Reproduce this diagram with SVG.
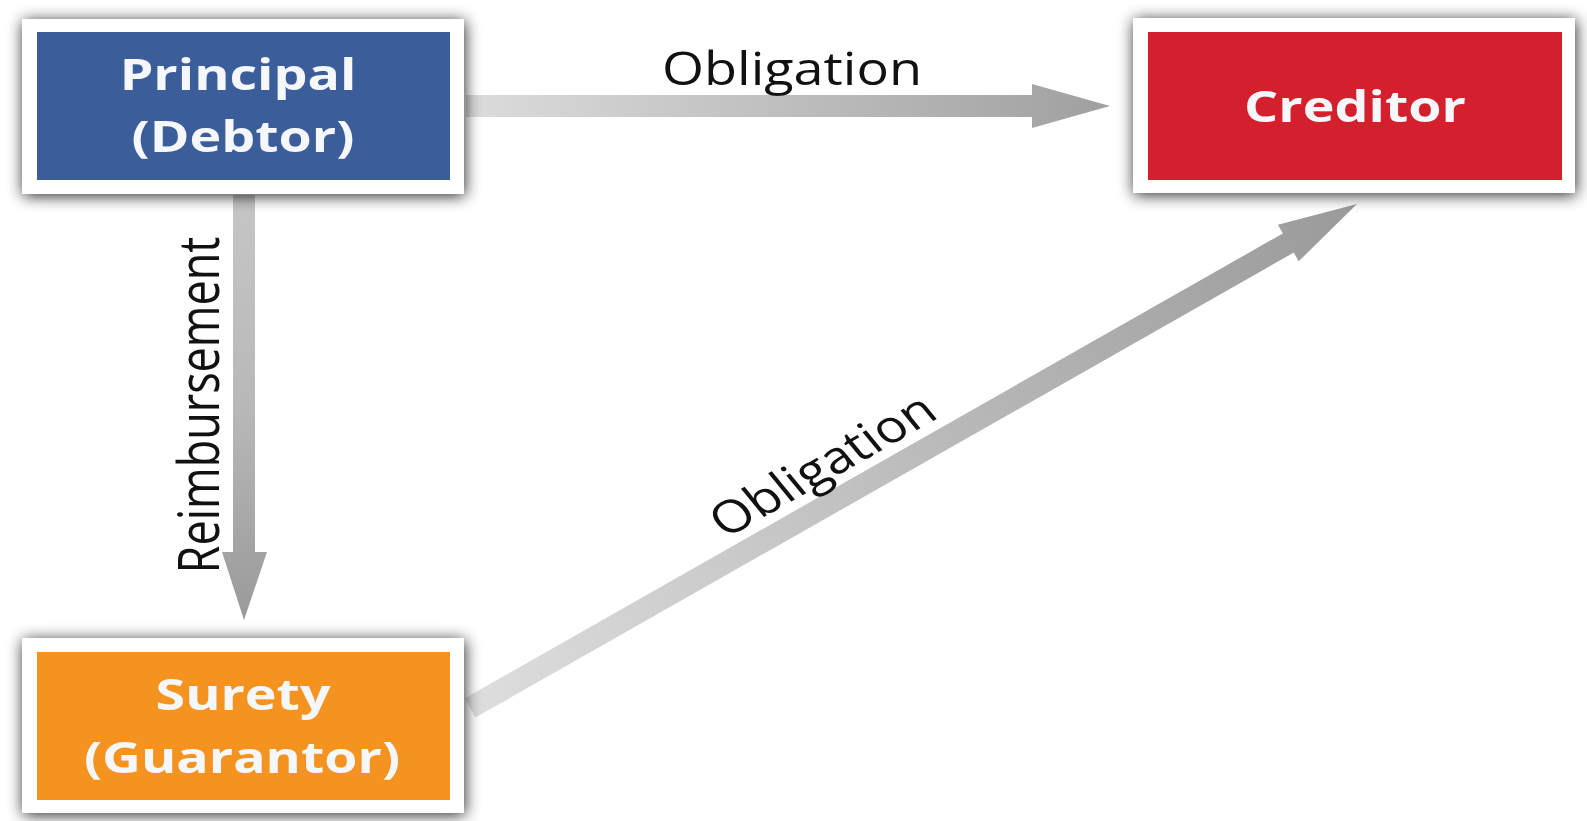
<svg xmlns="http://www.w3.org/2000/svg" width="1587" height="821" viewBox="0 0 1587 821">
<defs>
<style>
.frame{fill:#ffffff;filter:url(#sh)}
.box-text{font-family:"Open Sans","Noto Sans","Liberation Sans",sans-serif;font-weight:700;font-size:43px;fill:#f5f7fb;text-anchor:middle}
.label{font-family:"Open Sans","Noto Sans","Liberation Sans",sans-serif;font-weight:400;font-size:45px;fill:#111111;text-anchor:middle}
</style>
<filter id="sh" x="-15%" y="-35%" width="130%" height="170%">
<feGaussianBlur in="SourceAlpha" stdDeviation="8"/>
<feOffset dx="1" dy="2" result="b"/>
<feComponentTransfer><feFuncA type="linear" slope="0.85"/></feComponentTransfer>
<feMerge><feMergeNode/><feMergeNode in="SourceGraphic"/></feMerge>
</filter>
<linearGradient id="gH" gradientUnits="userSpaceOnUse" x1="466" y1="0" x2="1108" y2="0">
<stop offset="0" stop-color="#dcdcdc"/><stop offset="1" stop-color="#a0a0a0"/>
</linearGradient>
<linearGradient id="gV" gradientUnits="userSpaceOnUse" x1="0" y1="195" x2="0" y2="620">
<stop offset="0" stop-color="#c6c6c6"/><stop offset="0.5" stop-color="#b8b8b8"/><stop offset="1" stop-color="#9a9a9a"/>
</linearGradient>
<linearGradient id="gD" gradientUnits="userSpaceOnUse" x1="470" y1="708" x2="1357" y2="204">
<stop offset="0" stop-color="#dedede"/><stop offset="1" stop-color="#9a9a9a"/>
</linearGradient>
</defs>
<rect width="1587" height="821" fill="#ffffff"/>
<g id="connectors">
<polygon id="arrow-principal-creditor" fill="url(#gH)" points="466,95 1032,95 1032,84 1110,106 1032,128 1032,117 466,117"/>
<polygon id="arrow-principal-surety" fill="url(#gV)" points="233,195 255,195 255,552 267,552 244,620 222,552 233,552"/>
<polygon id="arrow-surety-creditor" fill="url(#gD)" points="464.6,698.4 1282.9,233.4 1277.9,224.7 1357,204 1298.7,261.3 1293.7,252.6 475.4,717.6"/>
<text class="label" x="0" y="0" transform="translate(792,85) scale(1.2,1)">Obligation</text>
<text class="label" x="0" y="0" font-size="44.5" transform="translate(219,405) scale(1.25,1) rotate(-90)">Reimbursement</text>
<text class="label" x="0" y="0" transform="translate(833,478) scale(1.2,1) rotate(-34.3)">Obligation</text>
</g>
<g id="principal">
<rect class="frame" x="22" y="19" width="442" height="175"/>
<rect x="37" y="32" width="413" height="148" fill="#3b5e9a"/>
<text class="box-text" x="0" y="0" transform="translate(238,90) scale(1.25,1)">Principal</text>
<text class="box-text" x="0" y="0" transform="translate(243,152) scale(1.25,1)">(Debtor)</text>
</g>
<g id="creditor">
<rect class="frame" x="1133" y="18" width="442" height="175"/>
<rect x="1148" y="32" width="414" height="148" fill="#d3202c"/>
<text class="box-text" x="0" y="0" transform="translate(1355,122) scale(1.25,1)">Creditor</text>
</g>
<g id="surety">
<rect class="frame" x="22" y="638" width="442" height="175"/>
<rect x="37" y="652" width="413" height="148" fill="#f4931f"/>
<text class="box-text" x="0" y="0" transform="translate(243,710) scale(1.25,1)">Surety</text>
<text class="box-text" x="0" y="0" transform="translate(242,773) scale(1.25,1)">(Guarantor)</text>
</g>
</svg>
